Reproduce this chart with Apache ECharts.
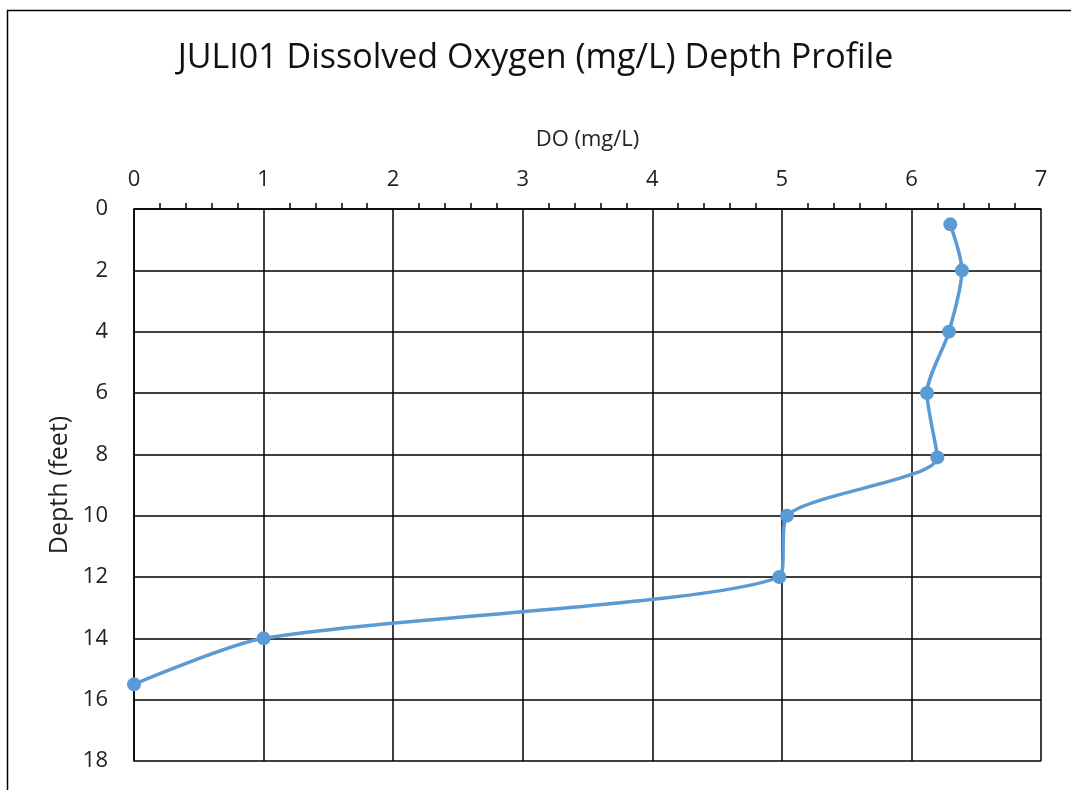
<!DOCTYPE html>
<html><head><meta charset="utf-8">
<script src="https://cdn.jsdelivr.net/npm/echarts@6/dist/echarts.min.js"></script>
<style>html,body{margin:0;padding:0;background:#fff}#c{width:1071px;height:790px}</style>
</head><body><div id="c"></div>
<script>
const doValues = [6.30, 6.39, 6.29, 6.12, 6.20, 5.04, 4.98, 1.0, 0.0];
const depths = [0.5, 2, 4, 6, 8.1, 10, 12, 14, 15.5];
const xTicks = {min: 0, max: 7, interval: 1};
const yTicks = {min: 0, max: 18, interval: 2};
const titleText = 'JULI01 Dissolved Oxygen (mg/L) Depth Profile';
const xName = 'DO (mg/L)';
const yName = 'Depth (feet)';

const font = '"Open Sans", Calibri, sans-serif';
const chart = echarts.init(document.getElementById('c'));
chart.setOption({
  animation: false,
  backgroundColor: '#fff',
  graphic: [{type: 'rect', left: 5, top: 8, shape: {width: 1100, height: 820}, style: {fill: 'none', stroke: '#000', lineWidth: 1.5}, silent: true}],
  title: {text: titleText, left: 'center', top: 36, textStyle: {fontFamily: font, fontSize: 34, fontWeight: 'normal', color: '#111'}},
  grid: {left: 134, top: 209, right: 30, bottom: 29},
  xAxis: {
    type: 'value', position: 'top', min: xTicks.min, max: xTicks.max, interval: xTicks.interval,
    name: xName, nameLocation: 'middle', nameGap: 58,
    nameTextStyle: {fontFamily: font, fontSize: 22, color: '#222'},
    axisLine: {show: true, lineStyle: {color: '#000', width: 1.5}},
    axisTick: {show: false},
    minorTick: {show: true, splitNumber: 5, length: 6, inside: true, lineStyle: {color: '#000', width: 1.5}},
    axisLabel: {fontFamily: font, fontSize: 22, color: '#222', margin: 18},
    splitLine: {show: true, lineStyle: {color: '#000', width: 1.5}}
  },
  yAxis: {
    type: 'value', inverse: true, min: yTicks.min, max: yTicks.max, interval: yTicks.interval,
    name: yName, nameLocation: 'middle', nameGap: 61,
    nameTextStyle: {fontFamily: font, fontSize: 25, color: '#222'},
    axisLine: {show: true, lineStyle: {color: '#000', width: 1.5}},
    axisTick: {show: false},
    axisLabel: {fontFamily: font, fontSize: 22, color: '#222', margin: 26},
    splitLine: {show: true, lineStyle: {color: '#000', width: 1.5}}
  },
  series: [{
    type: 'line', smooth: 0.25,
    data: doValues.map((v, i) => [v, depths[i]]),
    symbol: 'circle', symbolSize: 14,
    lineStyle: {color: '#5B9BD5', width: 3.5},
    itemStyle: {color: '#5B9BD5'}
  }]
});
</script></body></html>
